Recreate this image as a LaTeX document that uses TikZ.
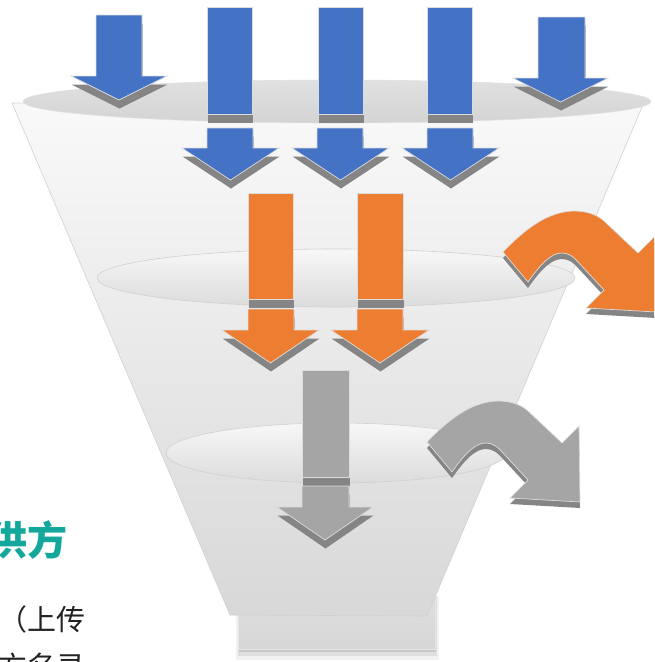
\documentclass[tikz,border=0pt]{standalone}
\usepackage{fontspec}
\newfontfamily\cjk{Noto Sans CJK SC}

\definecolor{arrowblue}{HTML}{4472C4}
\definecolor{arroworange}{HTML}{ED7D31}
\definecolor{arrowgray}{HTML}{A5A5A5}
\definecolor{shadowgray}{HTML}{858585}
\definecolor{edgelight}{HTML}{DCDCDC}
\definecolor{headteal}{HTML}{14A89C}
\definecolor{funneltop}{HTML}{F9F9F9}
\definecolor{funnelmid}{HTML}{EEEEEE}
\definecolor{funnelbot}{HTML}{D8D8D8}
\definecolor{funnelline}{HTML}{D0D0D0}
\definecolor{bodytext}{HTML}{222222}

% straight down arrow: shaft left, shaft right, top, head start, head left, head right, tip, style
\newcommand\fnlDownArrow[8]{%
  \fill[dropshadow, shift={(0.5,8.5)}]
    (#1,#3) -- (#2,#3) -- (#2,#4) -- (#6,#4) -- ({(#5+#6)/2},#7) -- (#5,#4) -- (#1,#4) -- cycle;
  \filldraw[#8]
    (#1,#3) -- (#2,#3) -- (#2,#4) -- (#6,#4) -- ({(#5+#6)/2},#7) -- (#5,#4) -- (#1,#4) -- cycle;
}
% tall bar: left, right, top, bottom, style
\newcommand\fnlBar[5]{%
  \fill[dropshadow, shift={(0.5,9)}] (#1,#3) rectangle (#2,#4);
  \filldraw[#5] (#1,#3) rectangle (#2,#4);
}
% bent arrow leaving the funnel to the right
\newcommand\fnlBend{%
  (427,442) .. controls (450,418) and (472,402) .. (497,401)
  .. controls (510,401) and (520,404) .. (528,411)
  -- (562,443) -- (579,426) -- (580,502) -- (510,498) -- (528,480)
  -- (503,453) .. controls (497,446) and (492,443) .. (486,443)
  .. controls (476,443) and (466,452) .. (452,472) -- cycle}

\begin{document}
\begin{tikzpicture}[x=1pt, y=-1pt,
  dropshadow/.style={fill=shadowgray, draw=none},
  bluearrow/.style={fill=arrowblue, draw=edgelight, line width=0.7pt},
  orangearrow/.style={fill=arroworange, draw=edgelight, line width=0.7pt},
  grayarrow/.style={fill=arrowgray, draw=edgelight, line width=0.7pt},
  levelring/.style={draw=funnelline, line width=0.6pt,
    top color=white!97!black, middle color=white!95!black, bottom color=white!86!black},
  cjktext/.style={inner sep=0pt, anchor=base west, text=bodytext}]

\useasboundingbox (0,0) rectangle (654,662);
\clip (0,0) rectangle (654,662);

% base plate with soft shadow
\fill[black, opacity=0.05] (236,596) rectangle (439,660);
\fill[black, opacity=0.08] (238,596) rectangle (437,656);
\fill[black, opacity=0.10] (239,596) rectangle (436,652);
\shadedraw[top color=white!88!black, bottom color=white!84!black, draw=white!90!black, line width=0.6pt]
  (238,585) rectangle (435,649);

% funnel body
\shadedraw[top color=funneltop, middle color=funnelmid, bottom color=funnelbot,
  draw=funnelline, line width=0.6pt]
  (12,103) -- (642,107) -- (427,616) -- (230,615) -- cycle;

% top opening
\shadedraw[top color=white!88!black, middle color=white!84!black, bottom color=white!83!black,
  draw=white!88!black, line width=0.6pt]
  (337,101.5) ellipse [x radius=314, y radius=21.5];

% incoming flows
\fnlDownArrow{96}{142}{15}{76}{71}{167}{100}{bluearrow}
\fnlDownArrow{538}{585}{17}{78}{513}{608}{102}{bluearrow}
\fnlBar{207}{252}{7}{114}{bluearrow}
\fnlBar{318}{363}{7}{114}{bluearrow}
\fnlBar{427}{472}{7}{114}{bluearrow}
\fnlDownArrow{207}{253}{128}{148}{182}{279}{180}{bluearrow}
\fnlDownArrow{317}{363}{128}{148}{292}{389}{180}{bluearrow}
\fnlDownArrow{427}{473}{128}{148}{402}{499}{180}{bluearrow}

% second level
\shadedraw[levelring] (336,278) ellipse [x radius=239, y radius=29];
\fnlBar{248}{293}{193}{299}{orangearrow}
\fnlBar{357}{403}{193}{299}{orangearrow}
\fnlDownArrow{248}{294}{309}{330}{222}{319}{363}{orangearrow}
\fnlDownArrow{357}{403}{309}{330}{331}{429}{363}{orangearrow}
\fill[dropshadow, shift={(76,-184)}] \fnlBend;
\filldraw[orangearrow, shift={(76,-190)}] \fnlBend;

% third level
\shadedraw[levelring] (336,453) ellipse [x radius=170, y radius=30];
\fnlBar{302}{349}{370}{477}{grayarrow}
\fnlDownArrow{302}{349}{486}{507}{277}{373}{540}{grayarrow}
\fill[dropshadow, shift={(0,6)}] \fnlBend;
\filldraw[grayarrow] \fnlBend;

% side text
\node[cjktext, text=headteal, font=\cjk\bfseries\fontsize{40}{46}\selectfont] (supplier) at (-13,555) {供方};
\node[cjktext, font=\cjk\fontsize{29}{36}\selectfont] (upload) at (-2,630) {（上传};
\node[cjktext, font=\cjk\fontsize{29}{36}\selectfont] (roster) at (-2,677) {方名录};
\end{tikzpicture}
\end{document}
